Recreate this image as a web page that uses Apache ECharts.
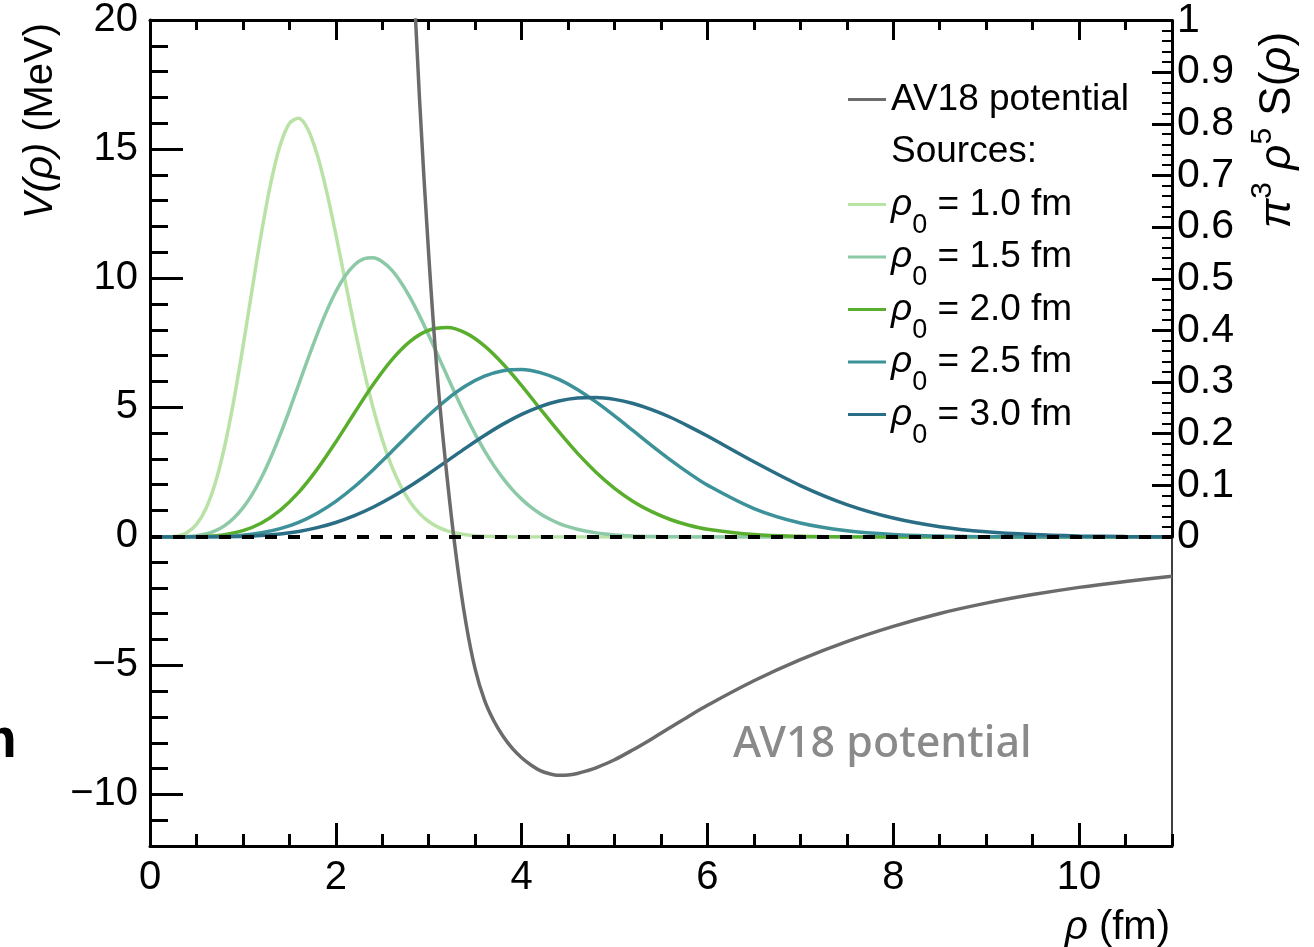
<!DOCTYPE html>
<html>
<head>
<meta charset="utf-8">
<script src="https://cdn.jsdelivr.net/npm/echarts@6/dist/echarts.min.js"></script>
<style>
html,body{margin:0;padding:0;background:#fff;}
#main{width:1314px;height:947px;}
</style>
</head>
<body>
<div id="main"></div>
<script>
// hyperradius positions (fm) for each source curve
var rho10 = [0, 0.1, 0.2, 0.3, 0.4, 0.5, 0.6, 0.7, 0.8, 0.9, 1.0, 1.1, 1.2, 1.3, 1.4, 1.5, 1.6, 1.7, 1.8, 1.9, 2.0,
  2.1, 2.2, 2.3, 2.4, 2.5, 2.6, 2.7, 2.8, 2.9, 3.0, 3.1, 3.2, 3.3, 3.4, 3.5, 3.6, 3.7, 3.8, 3.9, 4.0, 11.0];
var rho15 = [0, 0.1, 0.2, 0.3, 0.4, 0.5, 0.6, 0.7, 0.8, 0.9, 1.0, 1.1, 1.2, 1.3, 1.4, 1.5, 1.6, 1.7, 1.8, 1.9, 2.0,
  2.1, 2.2, 2.3, 2.4, 2.5, 2.6, 2.7, 2.8, 2.9, 3.0, 3.1, 3.2, 3.3, 3.4, 3.5, 3.6, 3.7, 3.8, 3.9, 4.0,
  4.1, 4.2, 4.3, 4.4, 4.5, 4.6, 4.7, 4.8, 4.9, 5.0, 5.1, 5.2, 5.3, 5.4, 5.5, 5.6, 5.7, 5.8, 5.9, 6.0, 11.0];
var rho = [0, 0.2, 0.4, 0.6, 0.8, 1.0, 1.2, 1.4, 1.6, 1.8, 2.0, 2.2, 2.4, 2.6, 2.8, 3.0, 3.2, 3.4, 3.6, 3.8, 4.0,
  4.2, 4.4, 4.6, 4.8, 5.0, 5.2, 5.4, 5.6, 5.8, 6.0, 6.5, 7.0, 7.5, 8.0, 8.5, 9.0, 9.5, 10.0, 10.5, 11.0];
// pi^3 rho^5 S(rho), right axis
var src10 = [0, 0, 0.0003, 0.0022, 0.0087, 0.0243, 0.0543, 0.1030, 0.1728, 0.2627, 0.3679, 0.4802, 0.5895, 0.6851, 0.7578, 0.8005, 0.8107, 0.7891, 0.7399, 0.6698, 0.5861,
  0.4962, 0.4075, 0.3245, 0.2509, 0.1885, 0.1377, 0.0980, 0.0678, 0.0457, 0.0300, 0.0192, 0.0120, 0.0073, 0.0043, 0.0025, 0.0014, 0.0008, 0.0004, 0.0002, 0.0001, 0];
var src15 = [0, 0, 0, 0.0002, 0.0008, 0.0025, 0.0058, 0.0119, 0.0216, 0.0362, 0.0563, 0.0826, 0.1152, 0.1539, 0.1976, 0.2453, 0.2951, 0.3450, 0.3930, 0.4369, 0.4748,
  0.5052, 0.5267, 0.5383, 0.5405, 0.5330, 0.5171, 0.4933, 0.4635, 0.4286, 0.3907, 0.3511, 0.3111, 0.2717, 0.2341, 0.1992, 0.1673, 0.1387, 0.1135, 0.0918, 0.0733,
  0.0579, 0.0452, 0.0348, 0.0265, 0.0200, 0.0149, 0.0110, 0.0080, 0.0058, 0.0041, 0.0029, 0.0020, 0.0014, 0.0009, 0.0006, 0.0004, 0.0003, 0.0002, 0.0001, 0.0001, 0];
var src20 = [0, 0, 0.0002, 0.0011, 0.0044, 0.0122, 0.0271, 0.0515, 0.0864, 0.1314, 0.1840, 0.2401, 0.2948, 0.3426, 0.3789, 0.4003, 0.4054, 0.3946, 0.3700, 0.3349, 0.2931,
  0.2481, 0.2038, 0.1623, 0.1255, 0.0943, 0.0689, 0.0490, 0.0339, 0.0228, 0.0150, 0.0047, 0.0013, 0.0003, 0.0001, 0, 0, 0, 0, 0, 0];
var src25 = [0, 0, 0, 0.0003, 0.0012, 0.0035, 0.0081, 0.0161, 0.0285, 0.0461, 0.0691, 0.0973, 0.1298, 0.1650, 0.2010, 0.2358, 0.2671, 0.2927, 0.3113, 0.3220, 0.3243,
  0.3182, 0.3051, 0.2858, 0.2615, 0.2344, 0.2058, 0.1770, 0.1494, 0.1237, 0.1004, 0.0551, 0.0271, 0.0120, 0.0048, 0.0017, 0.0006, 0.0002, 0.0001, 0, 0];
var src30 = [0, 0, 0, 0.0001, 0.0004, 0.0012, 0.0029, 0.0059, 0.0108, 0.0181, 0.0281, 0.0413, 0.0576, 0.0769, 0.0988, 0.1226, 0.1475, 0.1725, 0.1965, 0.2185, 0.2374,
  0.2526, 0.2633, 0.2692, 0.2702, 0.2665, 0.2585, 0.2466, 0.2318, 0.2143, 0.1954, 0.1456, 0.0996, 0.0628, 0.0367, 0.0199, 0.0100, 0.0047, 0.0021, 0.0008, 0.0003];
// AV18 potential V(rho) in MeV, left axis
var rhoAV = [2.8, 2.9, 3.0, 3.1, 3.2, 3.3, 3.4, 3.5, 3.6, 3.7, 3.8, 3.9, 4.0, 4.1, 4.2, 4.3, 4.4, 4.5, 4.6, 4.7, 4.8,
  5.0, 5.2, 5.4, 5.6, 5.8, 6.0, 6.5, 7.0, 7.5, 8.0, 8.5, 9.0, 9.5, 10.0, 10.5, 11.0];
var vAV = [24.5, 17.0, 10.9, 5.9, 2.2, -0.9, -3.35, -5.15, -6.35, -7.15, -7.75, -8.22, -8.58, -8.86, -9.08, -9.2, -9.26, -9.25, -9.19, -9.09, -8.97,
  -8.66, -8.27, -7.85, -7.41, -6.97, -6.55, -5.6, -4.78, -4.08, -3.49, -2.99, -2.59, -2.26, -1.98, -1.75, -1.55];

var srcNames = ['ρ0 = 1.0 fm', 'ρ0 = 1.5 fm', 'ρ0 = 2.0 fm', 'ρ0 = 2.5 fm', 'ρ0 = 3.0 fm'];
var srcColors = ['#b9e3a6', '#8cc9a6', '#5aae2e', '#3d9199', '#2a6e86'];
var srcX = [rho10, rho15, rho, rho, rho];
var srcData = [src10, src15, src20, src25, src30];
var leftMajor = [-10, -5, 0, 5, 10, 15, 20];

var FONT = 'Liberation Sans';
var black = '#000';

function pairs(xs, ys) {
    var out = [];
    for (var i = 0; i < xs.length; i++) out.push([xs[i], ys[i]]);
    return out;
}
function minus(v) {
    return v < 0 ? '\u2212' + (-v) : '' + v;
}

var chart = echarts.init(document.getElementById('main'));

var series = [];
for (var k = 0; k < srcNames.length; k++) {
    series.push({
        name: srcNames[k], type: 'line', xAxisIndex: 4, yAxisIndex: 3,
        data: pairs(srcX[k], srcData[k]), symbol: 'none', smooth: 0.33, z: 2,
        itemStyle: {color: srcColors[k]},
        lineStyle: {color: srcColors[k], width: 3.5}
    });
}
series.push({
    name: 'AV18 potential', type: 'line', xAxisIndex: 0, yAxisIndex: 0,
    data: pairs(rhoAV, vAV), symbol: 'none', smooth: 0.33, z: 3,
    itemStyle: {color: '#6b6b6b'},
    lineStyle: {color: '#6b6b6b', width: 3.5},
    markLine: {
        silent: true, symbol: ['none', 'none'], label: {show: false}, z: 6,
        lineStyle: {color: black, type: [12, 11], width: 4},
        data: [{yAxis: 0}]
    }
});
// legend header only
series.push({
    name: 'Sources:', type: 'line', data: [], xAxisIndex: 0, yAxisIndex: 0,
    itemStyle: {color: 'rgba(0,0,0,0)'}, lineStyle: {color: 'rgba(0,0,0,0)'}
});

var tickStyle = {color: black, width: 3};
var noZero = {onZero: false, lineStyle: {color: black, width: 3}};
var option = {
    animation: false,
    backgroundColor: '#fff',
    grid: [
        {left: 150, right: 142, top: 20, bottom: 101},
        {left: 150, right: 142, top: 20, height: 517}
    ],
    xAxis: [
        {gridIndex: 0, type: 'value', min: 0, max: 11, interval: 2, position: 'bottom',
            axisLine: noZero,
            axisTick: {inside: true, length: 23, lineStyle: tickStyle},
            axisLabel: {fontSize: 40, color: black, fontFamily: FONT, margin: 12, showMaxLabel: false},
            splitLine: {show: false}},
        {gridIndex: 0, type: 'value', min: 0, max: 11, interval: 0.5, position: 'bottom',
            axisLine: {show: false, onZero: false},
            axisTick: {inside: true, length: 12, lineStyle: tickStyle},
            axisLabel: {show: false}, splitLine: {show: false}},
        {gridIndex: 0, type: 'value', min: 0, max: 11, interval: 2, position: 'top',
            axisLine: noZero,
            axisTick: {inside: true, length: 20, lineStyle: tickStyle},
            axisLabel: {show: false}, splitLine: {show: false}},
        {gridIndex: 0, type: 'value', min: 0, max: 11, interval: 0.5, position: 'top',
            axisLine: {show: false, onZero: false},
            axisTick: {inside: true, length: 10, lineStyle: tickStyle},
            axisLabel: {show: false}, splitLine: {show: false}},
        {gridIndex: 1, type: 'value', min: 0, max: 11, show: false, axisLine: {onZero: false}}
    ],
    yAxis: [
        {gridIndex: 0, type: 'value', min: -12, max: 20, position: 'left',
            axisLine: noZero,
            axisTick: {inside: true, length: 33, lineStyle: tickStyle, customValues: leftMajor},
            axisLabel: {fontSize: 40, color: black, fontFamily: FONT, margin: 12,
                customValues: leftMajor, formatter: minus},
            splitLine: {show: false}},
        {gridIndex: 0, type: 'value', min: -12, max: 20, interval: 1, position: 'left',
            axisLine: {show: false, onZero: false},
            axisTick: {inside: true, length: 18, lineStyle: tickStyle},
            axisLabel: {show: false}, splitLine: {show: false}},
        {gridIndex: 0, type: 'value', min: -12, max: 20, position: 'right',
            axisLine: {onZero: false, lineStyle: {color: black, width: 1.5}},
            axisTick: {show: false}, axisLabel: {show: false}, splitLine: {show: false}},
        {gridIndex: 1, type: 'value', min: 0, max: 1, interval: 0.1, position: 'right',
            axisLine: noZero,
            axisTick: {inside: true, length: 20, lineStyle: tickStyle},
            minorTick: {show: true, splitNumber: 5, length: 10, lineStyle: {color: black, width: 2}},
            axisLabel: {fontSize: 41, color: black, fontFamily: FONT, margin: 5},
            splitLine: {show: false}}
    ],
    legend: {
        orient: 'vertical', left: 848, top: 65, padding: 0,
        itemGap: -16.5, itemWidth: 38, itemHeight: 3, icon: 'rect',
        data: ['AV18 potential', 'Sources:'].concat(srcNames),
        formatter: function (name) {
            if (name.indexOf('ρ0') === 0) return '{i|ρ}{s|0}{t|' + name.slice(2) + '}';
            return '{t|' + name + '}{s| }';
        },
        textStyle: {
            color: black, fontFamily: FONT, fontSize: 37,
            rich: {
                t: {fontSize: 37, lineHeight: 40, fontFamily: FONT, color: black},
                i: {fontSize: 37, lineHeight: 40, fontFamily: FONT, color: black, fontStyle: 'italic'},
                s: {fontSize: 27, lineHeight: 2, fontFamily: FONT, color: black, padding: [42, 0, 0, 0]}
            }
        }
    },
    graphic: [
        {type: 'text', x: 41, y: 121, rotation: Math.PI / 2,
            style: {text: '{i|V(ρ)}{t| (MeV)}', align: 'center', verticalAlign: 'middle',
                rich: {
                    t: {fontSize: 40, fontFamily: FONT, fill: black, lineHeight: 42},
                    i: {fontSize: 40, fontFamily: FONT, fill: black, lineHeight: 42, fontStyle: 'italic'}
                }}},
        {type: 'text', x: 1278, y: 130, rotation: Math.PI / 2,
            style: {text: '{i|π}{sup|3}{t| }{i|ρ}{sup|5}{t| S(}{i|ρ}{t|)}', align: 'center', verticalAlign: 'middle',
                rich: {
                    t: {fontSize: 44, fontFamily: FONT, fill: black, lineHeight: 44},
                    i: {fontSize: 44, fontFamily: FONT, fill: black, lineHeight: 44, fontStyle: 'italic'},
                    sup: {fontSize: 30, fontFamily: FONT, fill: black, lineHeight: 2, padding: [0, 0, 30, 0]}
                }}},
        {type: 'text', x: 1170, y: 928,
            style: {text: '{i|ρ}{t| (fm)}', align: 'right', verticalAlign: 'middle',
                rich: {
                    t: {fontSize: 40, fontFamily: FONT, fill: black, lineHeight: 42},
                    i: {fontSize: 40, fontFamily: FONT, fill: black, lineHeight: 42, fontStyle: 'italic'}
                }}},
        {type: 'text', x: 733, y: 745,
            style: {text: 'AV18 potential', align: 'left', verticalAlign: 'middle',
                fontSize: 43, fontFamily: 'Noto Sans', fontWeight: 500, fill: '#8a8a8a'}},
        {type: 'text', x: -33, y: 742,
            style: {text: 'm', align: 'left', verticalAlign: 'middle',
                fontSize: 56, fontFamily: FONT, fontWeight: 'bold', fill: black}}
    ],
    series: series
};
chart.setOption(option);
</script>
</body>
</html>
